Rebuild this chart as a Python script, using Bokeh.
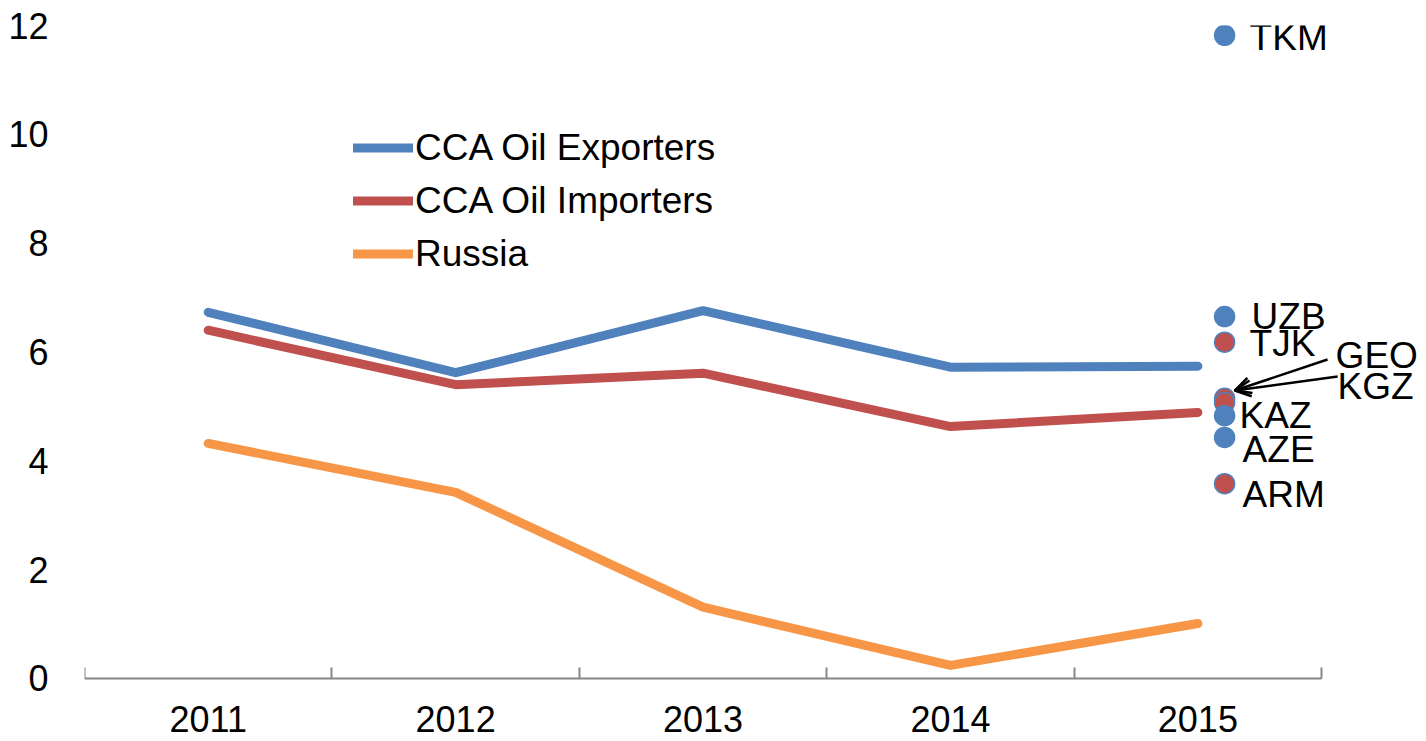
from bokeh.plotting import figure
from bokeh.models import (ColumnDataSource, FixedTicker, Range1d, Legend, LegendItem,
                          Label, Arrow, OpenHead)
from bokeh.embed import file_html
from bokeh.resources import INLINE

years = ["2011", "2012", "2013", "2014", "2015"]
exporters = [6.73, 5.62, 6.76, 5.72, 5.74]
importers = [6.40, 5.40, 5.61, 4.63, 4.89]
russia = [4.32, 3.42, 1.31, 0.24, 1.01]

countries = ["TKM", "UZB", "TJK", "GEO", "KGZ", "KAZ", "AZE", "ARM"]
country_vals = [11.82, 6.65, 6.18, 5.15, 5.07, 4.83, 4.43, 3.58]
country_group = ["exp", "exp", "imp", "imp", "imp", "exp", "exp", "imp"]

BLUE = "#4F81BD"
RED = "#C0504D"
ORANGE = "#F79646"
FONT = "Liberation Sans"
FS = "36px"
FS_TXT = "37px"

xs = [i + 1 for i in range(len(years))]

p = figure(width=1426, height=741, output_backend="svg", toolbar_location=None,
           x_range=Range1d(0.5, 5.924), y_range=Range1d(-1.158, 12),
           min_border_left=84, min_border_right=0, min_border_top=25, min_border_bottom=0)
p.outline_line_color = None
p.xgrid.grid_line_color = None
p.ygrid.grid_line_color = None
p.background_fill_color = "white"

r1 = p.line(xs, exporters, line_color=BLUE, line_width=9, line_cap="round", line_join="round")
r2 = p.line(xs, importers, line_color=RED, line_width=9, line_cap="round", line_join="round")
r3 = p.line(xs, russia, line_color=ORANGE, line_width=9, line_cap="round", line_join="round")

dot_x = len(years) + 0.108
fills = [BLUE if g == "exp" else RED for g in country_group]
src = ColumnDataSource(dict(x=[dot_x] * len(countries), y=country_vals, fill=fills))
p.scatter("x", "y", source=src, size=20, fill_color="fill", line_color=BLUE, line_width=1.5)

# labels
lab_dx = [25, 27, 25, 111, 113, 15, 18, 18]
lab_dy = [-2, 0, -1, 43, 16, 0, -12, -11]
for name, v, dx, dy in zip(countries, country_vals, lab_dx, lab_dy):
    p.add_layout(Label(x=dot_x, y=v, x_offset=dx, y_offset=dy, text=name,
                       text_font=FONT, text_font_size=FS_TXT, text_color="black",
                       text_baseline="middle", text_align="left"))

# arrows for GEO and KGZ
tip_x, tip_y = 5.149, 5.292
p.add_layout(Arrow(x_start=5.524, y_start=5.862, x_end=tip_x, y_end=tip_y,
                   line_color="black", line_width=2.5,
                   end=OpenHead(size=16, line_color="black", line_width=2.5)))
p.add_layout(Arrow(x_start=5.565, y_start=5.549, x_end=tip_x, y_end=tip_y,
                   line_color="black", line_width=2.5,
                   end=OpenHead(size=16, line_color="black", line_width=2.5)))

# x axis (drawn at y = 0, limited to the category span)
xa = p.xaxis[0]
xa.fixed_location = 0
xa.bounds = (0.5, len(years) + 0.5)
xa.ticker = FixedTicker(ticks=xs, minor_ticks=[i + 0.5 for i in range(len(years) + 1)])
xa.major_label_overrides = {x: y for x, y in zip(xs, years)}
xa.major_tick_line_color = None
xa.minor_tick_in = 11
xa.minor_tick_out = 0
xa.minor_tick_line_color = "#868686"
xa.minor_tick_line_width = 2
xa.axis_line_color = "#868686"
xa.axis_line_width = 2
xa.major_label_text_font = FONT
xa.major_label_text_font_size = FS
xa.major_label_text_color = "black"
xa.major_label_standoff = 22

ya = p.yaxis[0]
ya.ticker = FixedTicker(ticks=[0, 2, 4, 6, 8, 10, 12])
ya.axis_line_color = None
ya.major_tick_line_color = None
ya.minor_tick_line_color = None
ya.major_label_text_font = FONT
ya.major_label_text_font_size = FS
ya.major_label_text_color = "black"
ya.major_label_standoff = 30

legend = Legend(items=[LegendItem(label="CCA Oil Exporters", renderers=[r1]),
                       LegendItem(label="CCA Oil Importers", renderers=[r2]),
                       LegendItem(label="Russia", renderers=[r3])],
                location=(269, 461), orientation="vertical",
                background_fill_alpha=0, border_line_color=None,
                label_text_font=FONT, label_text_font_size=FS_TXT, label_text_color="black",
                glyph_width=60, glyph_height=53, label_height=53,
                label_standoff=2, spacing=0, padding=0, margin=0)
p.add_layout(legend, "center")

open("out.html", "w").write(file_html(p, INLINE))
